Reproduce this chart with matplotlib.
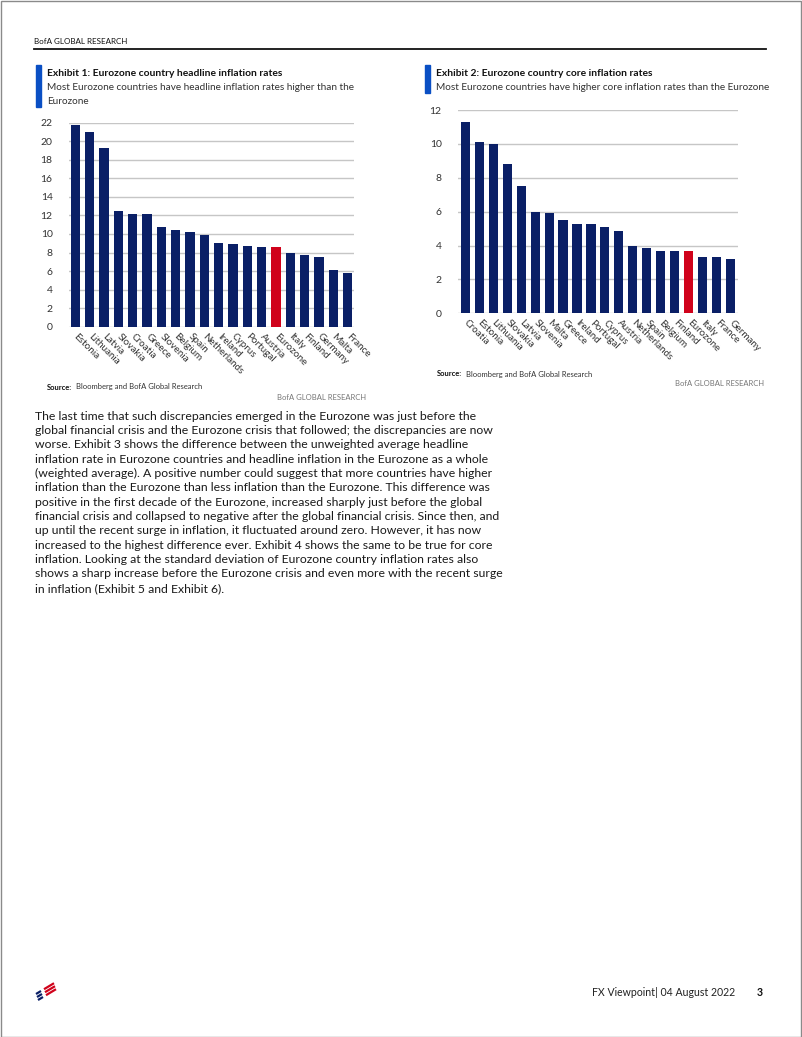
import matplotlib
matplotlib.use("Agg")
import matplotlib.pyplot as plt
from matplotlib.lines import Line2D
from matplotlib.patches import Rectangle

# data
headline_countries = ["Estonia", "Lithuania", "Latvia", "Slovakia", "Croatia", "Greece",
                      "Slovenia", "Belgium", "Spain", "Netherlands", "Ireland", "Cyprus",
                      "Portugal", "Austria", "Eurozone", "Italy", "Finland", "Germany",
                      "Malta", "France"]
headline_values = [21.8, 21.0, 19.3, 12.5, 12.1, 12.1, 10.7, 10.4, 10.2, 9.9, 9.0, 8.9,
                   8.7, 8.6, 8.6, 8.0, 7.7, 7.55, 6.1, 5.75]

core_countries = ["Croatia", "Estonia", "Lithuania", "Slovakia", "Latvia", "Slovenia",
                  "Malta", "Greece", "Ireland", "Portugal", "Cyprus", "Austria",
                  "Netherlands", "Spain", "Belgium", "Finland", "Eurozone", "Italy",
                  "France", "Germany"]
core_values = [11.3, 10.1, 10.0, 8.8, 7.5, 6.0, 5.9, 5.5, 5.25, 5.25, 5.1, 4.85,
               4.0, 3.85, 3.7, 3.7, 3.7, 3.35, 3.3, 3.2]

body_lines = [
    "The last time that such discrepancies emerged in the Eurozone was just before the",
    "global financial crisis and the Eurozone crisis that followed; the discrepancies are now",
    "worse. Exhibit 3 shows the difference between the unweighted average headline",
    "inflation rate in Eurozone countries and headline inflation in the Eurozone as a whole",
    "(weighted average). A positive number could suggest that more countries have higher",
    "inflation than the Eurozone than less inflation than the Eurozone. This difference was",
    "positive in the first decade of the Eurozone, increased sharply just before the global",
    "financial crisis and collapsed to negative after the global financial crisis. Since then, and",
    "up until the recent surge in inflation, it fluctuated around zero. However, it has now",
    "increased to the highest difference ever. Exhibit 4 shows the same to be true for core",
    "inflation. Looking at the standard deviation of Eurozone country inflation rates also",
    "shows a sharp increase before the Eurozone crisis and even more with the recent surge",
    "in inflation (Exhibit 5 and Exhibit 6).",
]

NAVY = "#0a1f66"
RED = "#d0021b"
BLUE = "#0a4fc4"
W, H = 802, 1037

plt.rcParams["font.family"] = ["Lato", "DejaVu Sans"]

fig = plt.figure(figsize=(W / 100, H / 100), dpi=100)


def px(x, y):
    return x / W, 1 - y / H


def txt(x, y, s, **kw):
    kw.setdefault("va", "center")
    fig.text(*px(x, y), s, **kw)


def seg(x0, y0, x1, y1, color, lw):
    fig.add_artist(Line2D([x0 / W, x1 / W], [1 - y0 / H, 1 - y1 / H], color=color,
                          lw=lw, solid_capstyle="butt", transform=fig.transFigure))


def bar_chart(left, right, top, bottom, names, values, ymax, xlo, xhi):
    ax = fig.add_axes([left / W, 1 - bottom / H, (right - left) / W, (bottom - top) / H])
    colors = [RED if n == "Eurozone" else NAVY for n in names]
    ax.bar(range(len(values)), values, width=0.65, color=colors, zorder=3)
    ax.set_ylim(0, ymax)
    ax.set_xlim(xlo, xhi)
    ax.set_yticks(range(0, ymax + 1, 2))
    ax.yaxis.grid(True, color="#c6c6c6", linewidth=1.0, zorder=0)
    for s in ax.spines.values():
        s.set_visible(False)
    ax.tick_params(axis="y", length=0, pad=12, labelsize=7.5, labelcolor="#333333")
    ax.tick_params(axis="x", length=0, pad=6)
    ax.set_xticks(range(len(names)))
    ax.set_xticklabels(names, rotation=-45, rotation_mode="anchor", ha="left",
                       va="center", fontsize=7.1, color="#333333")
    return ax


def exhibit_header(x, ytop, ybot, title, subs):
    fig.add_artist(Rectangle(px(x, ybot), 5 / W, (ybot - ytop) / H, color=BLUE,
                             transform=fig.transFigure))
    txt(x + 11, 74, title, fontsize=7.4, fontweight="bold", color="#111111")
    for i, s in enumerate(subs):
        txt(x + 11, 87 + 14 * i, s, fontsize=7.2, color="#333333")


# page header
txt(34, 41, "BofA GLOBAL RESEARCH", fontsize=5.8, color="#111111")
fig.add_artist(Line2D([34 / W, 766 / W], [1 - 48.5 / H] * 2, color="#111111", lw=1.3))

# exhibit 1
exhibit_header(36, 65, 107, "Exhibit 1: Eurozone country headline inflation rates",
               ["Most Eurozone countries have headline inflation rates higher than the",
                "Eurozone"])
bar_chart(69.3, 354, 122.7, 326.7, headline_countries, headline_values, 22, -0.42, 19.45)
txt(47, 387, "Source:", fontsize=5.5, fontweight="bold", color="#111111")
txt(76, 387, "Bloomberg and BofA Global Research", fontsize=5.5, color="#333333")
txt(366, 397, "BofA GLOBAL RESEARCH", fontsize=5.5, color="#777777", ha="right")

# exhibit 2
exhibit_header(425, 65, 93, "Exhibit 2: Eurozone country core inflation rates",
               ["Most Eurozone countries have higher core inflation rates than the Eurozone"])
bar_chart(458.3, 738.3, 110, 313.3, core_countries, core_values, 12, -0.5, 19.55)
txt(437, 374, "Source:", fontsize=5.5, fontweight="bold", color="#111111")
txt(466, 374, "Bloomberg and BofA Global Research", fontsize=5.5, color="#333333")
txt(764, 384, "BofA GLOBAL RESEARCH", fontsize=5.5, color="#777777", ha="right")

# body text
for i, line in enumerate(body_lines):
    txt(35, 416 + 14.36 * i, line, fontsize=8.8, color="#1a1a1a")

# footer logo: short blue stripes, longer red stripes
for i in range(3):
    yb = 994 + 3.0 * i
    xb = 36 + 1.0 * i
    seg(xb, yb, xb + 5, yb - 3, NAVY, 1.6)
    seg(xb + 8, yb - 4.8, xb + 18, yb - 10.8, RED, 1.6)
txt(735, 993, "FX Viewpoint| 04 August 2022", fontsize=7.6, color="#222222", ha="right")
txt(763, 993, "3", fontsize=7.6, fontweight="bold", color="#111111", ha="right")

# page border
fig.add_artist(Rectangle((0.5 / W, 0.5 / H), (W - 2) / W, (H - 1.5) / H, fill=False,
                         edgecolor="#8a8a8a", lw=1.0, transform=fig.transFigure))

fig.savefig("out.png", dpi=100)
